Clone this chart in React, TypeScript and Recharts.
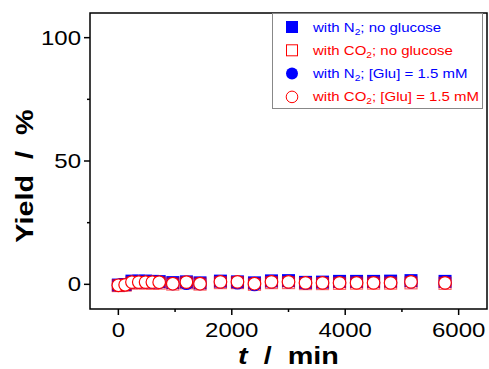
import React from 'react';
import { ScatterChart, Scatter, XAxis, YAxis, ReferenceArea, Legend } from 'recharts';

const times = [0, 120, 240, 360, 480, 600, 720, 960, 1200, 1440, 1800, 2100, 2400, 2700, 3000, 3300, 3600, 3900, 4200, 4500, 4800, 5160, 5760];
const n2NoGlucose = [-0.3, -0.1, 1.3, 1.3, 1.3, 1.2, 1.1, 0.7, 1.0, 0.6, 1.3, 1.0, 0.6, 1.4, 1.5, 0.8, 0.9, 1.2, 1.2, 1.2, 1.3, 1.5, 1.2];
const co2NoGlucose = [-0.5, -0.3, 0.6, 0.6, 0.6, 0.5, 0.5, 0.1, 0.6, 0.1, 0.7, 0.7, 0.0, 0.7, 0.7, 0.3, 0.3, 0.4, 0.5, 0.5, 0.5, 0.6, 0.4];
const n2Glucose = [-0.4, -0.2, 0.8, 0.8, 0.8, 0.7, 0.7, 0.2, 0.3, 0.2, 0.9, 0.5, -0.2, 0.9, 0.9, 0.4, 0.6, 0.7, 0.7, 0.7, 0.7, 0.9, 0.6];
const co2Glucose = [-0.4, -0.2, 0.9, 0.9, 0.9, 0.9, 0.85, 0.25, 0.9, 0.25, 1.0, 1.0, 0.25, 1.0, 1.0, 0.6, 0.6, 0.6, 0.6, 0.6, 0.6, 1.0, 0.6];

const xTicks = [0, 1000, 2000, 3000, 4000, 5000, 6000];
const xMajor = [0, 2000, 4000, 6000];
const yTicks = [0, 25, 50, 75, 100];
const yMajor = [0, 50, 100];

const BLUE = '#0000ff';
const RED = '#ff0000';
const FONT = '"Liberation Sans", Arial, sans-serif';

const toPoints = (vals: number[]) => times.map((t, i) => ({ x: t, y: vals[i] }));

const XTick = (props: any) => {
  const { x, y, payload } = props;
  const major = xMajor.includes(payload.value);
  return (
    <g>
      <line x1={x} x2={x} y1={y} y2={y + (major ? 6 : 3)} stroke="#000" strokeWidth={1.5} />
      {major && (
        <text transform={`translate(${x},${y + 28}) scale(1.2,1)`} textAnchor="middle" fontSize={20} fontFamily={FONT} fill="#000">
          {payload.value}
        </text>
      )}
    </g>
  );
};

const YTick = (props: any) => {
  const { x, y, payload } = props;
  const major = yMajor.includes(payload.value);
  return (
    <g>
      <line x1={x - (major ? 6 : 3)} x2={x} y1={y} y2={y} stroke="#000" strokeWidth={1.5} />
      {major && (
        <text transform={`translate(${x - 9},${y}) scale(1.2,1)`} textAnchor="end" dy="0.35em" fontSize={20} fontFamily={FONT} fill="#000">
          {payload.value}
        </text>
      )}
    </g>
  );
};

const XTitle = (props: any) => {
  const vb = props.viewBox || {};
  const cx = (vb.x ?? 90) + (vb.width ?? 397) / 2;
  const cy = (vb.y ?? 309) + 55;
  return (
    <text transform={`translate(${cx},${cy}) scale(1.2,1)`} textAnchor="middle" fontSize={24} fontWeight="bold" fontFamily={FONT} fill="#000" style={{ whiteSpace: 'pre' }}>
      <tspan fontStyle="italic">t</tspan>
      <tspan>{'  /  min'}</tspan>
    </text>
  );
};

const YTitle = (props: any) => {
  const vb = props.viewBox || {};
  const cy = (vb.y ?? 13) + (vb.height ?? 296) / 2 + 15;
  return (
    <text transform={`translate(33,${cy}) rotate(-90) scale(1.2,1)`} textAnchor="middle" fontSize={24} fontWeight="bold" fontFamily={FONT} fill="#000" style={{ whiteSpace: 'pre' }}>
      {'Yield  /  %'}
    </text>
  );
};

const FilledSquare = (p: any) => <rect x={p.cx - 6.5} y={p.cy - 6.5} width={13} height={13} fill={BLUE} />;
const OpenSquare = (p: any) => <rect x={p.cx - 6} y={p.cy - 6} width={12} height={12} fill="none" stroke={RED} strokeOpacity={0.6} strokeWidth={1.2} />;
const FilledCircle = (p: any) => <circle cx={p.cx} cy={p.cy} r={6.5} fill={BLUE} />;
const OpenCircle = (p: any) => <circle cx={p.cx} cy={p.cy} r={6.3} fill="#fff" stroke={RED} strokeWidth={1.2} />;

const legendItems = [
  { color: BLUE, sym: 'fsq', gas: 'with N', rest: '; no glucose' },
  { color: RED, sym: 'osq', gas: 'with CO', rest: '; no glucose' },
  { color: BLUE, sym: 'fci', gas: 'with N', rest: '; [Glu] = 1.5 mM' },
  { color: RED, sym: 'oci', gas: 'with CO', rest: '; [Glu] = 1.5 mM' },
];

const LegendBox = () => (
  <svg width={211} height={96} style={{ display: 'block' }}>
    <rect x={0.5} y={0.5} width={210} height={95} fill="#fff" stroke="#888" strokeWidth={1} />
    {legendItems.map((it, i) => {
      const cy = 14 + i * 23.3;
      let sym;
      if (it.sym === 'fsq') sym = <rect x={20 - 6} y={cy - 6} width={12} height={12} fill={BLUE} />;
      else if (it.sym === 'osq') sym = <rect x={20 - 5.5} y={cy - 5.5} width={11} height={11} fill="none" stroke={RED} strokeWidth={1} />;
      else if (it.sym === 'fci') sym = <circle cx={20} cy={cy} r={6} fill={BLUE} />;
      else sym = <circle cx={20} cy={cy} r={5.8} fill="none" stroke={RED} strokeWidth={1} />;
      return (
        <g key={i}>
          {sym}
          <text transform={`translate(41,${cy + 4.5}) scale(1.2,1)`} fontSize={12.5} fontFamily={FONT} fill={it.color}>
            <tspan>{it.gas}</tspan>
            <tspan dy={3} fontSize={8.5}>2</tspan>
            <tspan dy={-3}>{it.rest}</tspan>
          </text>
        </g>
      );
    })}
  </svg>
);

export default function App() {
  return (
    <div style={{ width: 489, height: 369, background: '#fff' }}>
      <style>{'body{margin:0;}'}</style>
      <ScatterChart width={489} height={369} margin={{ top: 13, right: 2, bottom: 0, left: 0 }}>
        <XAxis
          type="number"
          dataKey="x"
          domain={[-500, 6500]}
          ticks={xTicks}
          interval={0}
          axisLine={false}
          tickLine={false}
          tickSize={0}
          tickMargin={0}
          tick={<XTick />}
          height={60}
          label={<XTitle />}
        />
        <YAxis
          type="number"
          dataKey="y"
          domain={[-10, 110]}
          ticks={yTicks}
          interval={0}
          axisLine={false}
          tickLine={false}
          tickSize={0}
          tickMargin={0}
          tick={<YTick />}
          width={90}
          label={<YTitle />}
        />
        <Legend
          layout="vertical"
          align="center"
          verticalAlign="middle"
          content={() => <LegendBox />}
          wrapperStyle={{ left: 272, top: 13, width: 211, height: 96 }}
        />
        <Scatter name="with N2; no glucose" data={toPoints(n2NoGlucose)} shape={<FilledSquare />} isAnimationActive={false} />
        <Scatter name="with CO2; no glucose" data={toPoints(co2NoGlucose)} shape={<OpenSquare />} isAnimationActive={false} />
        <Scatter name="with N2; [Glu] = 1.5 mM" data={toPoints(n2Glucose)} shape={<FilledCircle />} isAnimationActive={false} />
        <Scatter name="with CO2; [Glu] = 1.5 mM" data={toPoints(co2Glucose)} shape={<OpenCircle />} isAnimationActive={false} />
        <ReferenceArea x1={-500} x2={6500} y1={-10} y2={110} fill="none" stroke="#000" strokeWidth={1.5} ifOverflow="visible" />
      </ScatterChart>
    </div>
  );
}
